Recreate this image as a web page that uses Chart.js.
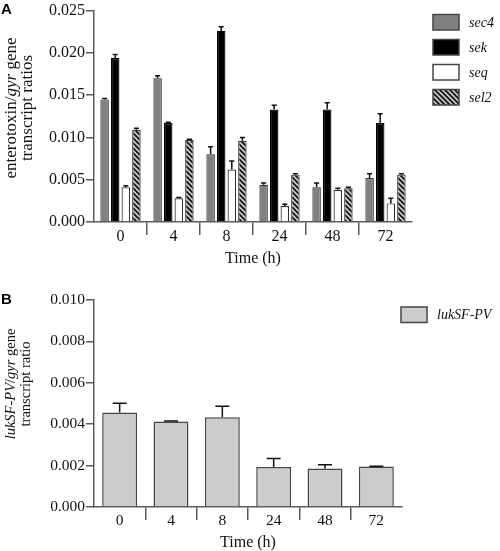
<!DOCTYPE html>
<html><head><meta charset="utf-8">
<script src="https://cdn.jsdelivr.net/npm/chart.js@4.4.0/dist/chart.umd.min.js"></script>
<style>
html,body{margin:0;padding:0;background:#fff;width:500px;height:551px;overflow:hidden;}
#a{position:absolute;left:0;top:0;}
#b{position:absolute;left:0;top:275px;}
</style></head><body>
<canvas id="a" width="500" height="275"></canvas>
<canvas id="b" width="500" height="276"></canvas>
<script>
// ---- data ----
const timeLabels = ['0', '4', '8', '24', '48', '72'];
const sec4    = [0.0145, 0.0170, 0.0080, 0.0044, 0.0041, 0.0052];
const sec4Err = [0.0001, 0.0003, 0.0009, 0.0002, 0.0005, 0.0005];
const sek     = [0.0194, 0.0117, 0.0226, 0.0133, 0.0133, 0.0117];
const sekErr  = [0.0004, 0.0001, 0.0005, 0.0005, 0.0008, 0.0011];
const seq     = [0.0041, 0.0028, 0.0062, 0.0019, 0.0038, 0.0022];
const seqErr  = [0.0002, 0.0001, 0.0010, 0.0002, 0.0002, 0.0006];
const sel2    = [0.0109, 0.0097, 0.0096, 0.0056, 0.0040, 0.0056];
const sel2Err = [0.0002, 0.0001, 0.0004, 0.0001, 0.0001, 0.0001];
const luk     = [0.00456, 0.00413, 0.00434, 0.00193, 0.00186, 0.00196];
const lukErr  = [0.00045, 0.00003, 0.00053, 0.00041, 0.00018, 0.00001];
const yTicksA = [0, 0.005, 0.010, 0.015, 0.020, 0.025];
const yTicksB = [0, 0.002, 0.004, 0.006, 0.008, 0.010];

const SERIF = 'Liberation Serif';
const AXIS = '#5a5a5a';
const TXT = '#111';

function stripes() {
  const c = document.createElement('canvas');
  c.width = 5; c.height = 5;
  const g = c.getContext('2d');
  g.fillStyle = '#c8c8c8'; g.fillRect(0, 0, 5, 5);
  g.strokeStyle = '#111'; g.lineWidth = 1.7;
  g.beginPath();
  g.moveTo(-1, -1); g.lineTo(6, 6);
  g.moveTo(-1, 4); g.lineTo(1, 6);
  g.moveTo(4, -1); g.lineTo(6, 1);
  g.stroke();
  return c.getContext('2d').createPattern(c, 'repeat');
}

const errorBars = {
  id: 'errorBars',
  afterDatasetsDraw(chart, args, opts) {
    const ctx = chart.ctx, y = chart.scales.y;
    chart.data.datasets.forEach((ds, i) => {
      if (!ds.errors) return;
      const meta = chart.getDatasetMeta(i);
      meta.data.forEach((bar, j) => {
        const e = ds.errors[j];
        const top = y.getPixelForValue(ds.data[j] + e);
        const half = bar.width * opts.cap / 2;
        ctx.save();
        ctx.strokeStyle = '#111'; ctx.lineWidth = 1.5;
        ctx.beginPath();
        ctx.moveTo(bar.x, bar.y); ctx.lineTo(bar.x, top);
        ctx.moveTo(bar.x - half, top); ctx.lineTo(bar.x + half, top);
        ctx.stroke();
        ctx.restore();
      });
    });
  }
};

const boxLegend = {
  id: 'boxLegend',
  afterDraw(chart, args, o) {
    const ctx = chart.ctx;
    chart.data.datasets.forEach((ds, i) => {
      const y = o.y + i * o.step;
      ctx.save();
      ctx.fillStyle = ds.backgroundColor;
      ctx.fillRect(o.x, y, 26, 15.5);
      ctx.strokeStyle = '#444'; ctx.lineWidth = 1.5;
      ctx.strokeRect(o.x, y, 26, 15.5);
      ctx.fillStyle = TXT;
      ctx.font = 'italic 14px "' + SERIF + '"';
      ctx.textBaseline = 'middle';
      ctx.fillText(ds.label, o.x + 36, y + 8.5);
      ctx.restore();
    });
  }
};

const extraText = {
  id: 'extraText',
  afterDraw(chart, args, o) {
    const ctx = chart.ctx;
    ctx.save();
    ctx.fillStyle = '#000';
    ctx.font = 'bold 15px "Liberation Sans"';
    ctx.textBaseline = 'alphabetic';
    ctx.fillText(o.panel, 1, o.panelY);
    o.lines.forEach((parts, li) => {
      const fonts = parts.map(p => (p.i ? 'italic ' : '') + o.size + 'px "' + SERIF + '"');
      let w = 0;
      const ws = parts.map((p, k) => { ctx.font = fonts[k]; const m = ctx.measureText(p.t).width; w += m; return m; });
      ctx.save();
      ctx.translate(o.x[li], o.cy);
      ctx.rotate(-Math.PI / 2);
      let x = -w / 2;
      ctx.fillStyle = TXT;
      parts.forEach((p, k) => { ctx.font = fonts[k]; ctx.fillText(p.t, x, 0); x += ws[k]; });
      ctx.restore();
    });
    ctx.restore();
  }
};

function xScale(h, titleBottom, fs) {
  return {
    offset: true,
    grid: {
      offset: true, drawOnChartArea: false, drawTicks: true, tickLength: 13, lineWidth: 1.5,
      color: c => (c.index === undefined || c.index === 0) ? 'rgba(0,0,0,0)' : AXIS
    },
    border: { display: true, color: AXIS, width: 1.5 },
    ticks: { color: TXT, font: { family: SERIF, size: fs }, padding: -8 },
    title: { display: true, text: 'Time (h)', color: TXT,
      font: { family: SERIF, size: 16, lineHeight: 1 }, padding: { top: 0, bottom: titleBottom } },
    afterFit: s => { s.height = h; }
  };
}
function yScale(max, ticks, fs) {
  return {
    min: 0, max: max,
    afterBuildTicks: s => { s.ticks = ticks.map(v => ({ value: v })); },
    ticks: { callback: v => Number(v).toFixed(3), color: TXT, font: { family: SERIF, size: fs }, padding: 1 },
    grid: { drawOnChartArea: false, tickLength: 8, color: AXIS, lineWidth: 1.5 },
    border: { display: true, color: AXIS, width: 1.5 },
    afterFit: s => { s.width = 94; }
  };
}

const edge = '#333';
new Chart(document.getElementById('a'), {
  type: 'bar',
  data: {
    labels: timeLabels,
    datasets: [
      { label: 'sec4', data: sec4, errors: sec4Err, backgroundColor: '#808080', borderColor: edge, borderWidth: 1.2 },
      { label: 'sek', data: sek, errors: sekErr, backgroundColor: '#000', borderColor: '#000', borderWidth: 1.2 },
      { label: 'seq', data: seq, errors: seqErr, backgroundColor: '#fff', borderColor: edge, borderWidth: 1.2 },
      { label: 'sel2', data: sel2, errors: sel2Err, backgroundColor: stripes(), borderColor: edge, borderWidth: 1.2 }
    ]
  },
  options: {
    responsive: false, animation: false,
    categoryPercentage: 0.8, barPercentage: 0.8,
    layout: { padding: { top: 10, right: 88, left: 0, bottom: 0 } },
    plugins: {
      legend: { display: false }, tooltip: { enabled: false },
      errorBars: { cap: 0.6 },
      boxLegend: { x: 433, y: 14.5, step: 25 },
      extraText: { panel: 'A', panelY: 14, size: 17, x: [16, 32], cy: 108,
        lines: [
          [{ t: 'enterotoxin/' }, { t: 'gyr', i: true }, { t: ' gene' }],
          [{ t: 'transcript ratios' }]
        ] }
    },
    scales: { x: xScale(53, 8, 16), y: yScale(0.025, yTicksA, 16) }
  },
  plugins: [errorBars, boxLegend, extraText]
});

new Chart(document.getElementById('b'), {
  type: 'bar',
  data: {
    labels: timeLabels,
    datasets: [
      { label: 'lukSF-PV', data: luk, errors: lukErr, backgroundColor: '#cccccc', borderColor: '#444', borderWidth: 1.5 }
    ]
  },
  options: {
    responsive: false, animation: false,
    categoryPercentage: 0.85, barPercentage: 0.8,
    layout: { padding: { top: 25, right: 98, left: 0, bottom: 0 } },
    plugins: {
      legend: { display: false }, tooltip: { enabled: false },
      errorBars: { cap: 0.4 },
      boxLegend: { x: 401, y: 32, step: 25 },
      extraText: { panel: 'B', panelY: 29, size: 14.5, x: [15, 30], cy: 109,
        lines: [
          [{ t: 'lukSF-PV', i: true }, { t: '/' }, { t: 'gyr', i: true }, { t: ' gene' }],
          [{ t: 'transcript ratio' }]
        ] }
    },
    scales: { x: xScale(44, 0, 15.5), y: yScale(0.010, yTicksB, 15.5) }
  },
  plugins: [errorBars, boxLegend, extraText]
});
</script>
</body></html>
